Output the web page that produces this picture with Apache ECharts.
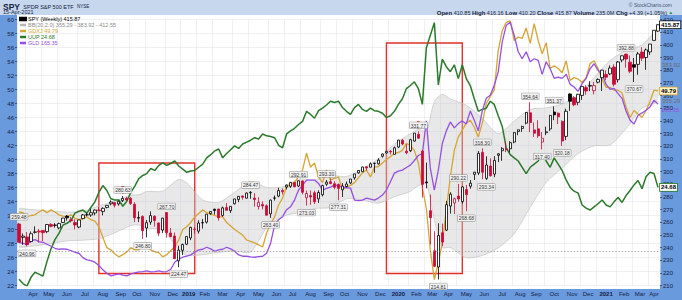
<!DOCTYPE html>
<html><head><meta charset="utf-8">
<script src="https://cdn.jsdelivr.net/npm/echarts@6/dist/echarts.min.js"></script>
<style>html,body{margin:0;padding:0;background:#fff}#c{width:682px;height:300px}</style>
</head><body><div id="c"></div>
<script>
// ---------- week categories (weekly bars, dated by Friday) ----------
const firstFriday = [2018, 2, 23];
const weekCount = 161;
const monthNames = ['Jan','Feb','Mar','Apr','May','Jun','Jul','Aug','Sep','Oct','Nov','Dec'];
const weeks = [];
for (let k = 0; k < weekCount; k++) {
  weeks.push(new Date(Date.UTC(firstFriday[0], firstFriday[1], firstFriday[2] + 7 * k)).toISOString().slice(0, 10));
}

// ---------- SPY weekly OHLC (dividend-adjusted, as charted) ----------
const spyOpen = [258.59,247.99,248.37,244.68,252.06,252.91,253.48,252.53,258.21,257.73,255.46,259.72,
264.78,261.84,259.75,256.14,262.79,265.83,265.64,267.26,269.54,268.49,271.63,274.57,275.43,274.38,
276.96,278.78,278.87,274.10,263.12,264.45,255.39,260.06,264.65,259.39,253.76,267.61,251.47,
249.09,229.50,237.76,242.65,247.55,254.27,252.93,259.36,260.03,266.85,270.21,270.31,
265.33,271.59,269.09,274.58,277.86,280.66,278.92,283.07,279.02,272.37,274.01,272.94,266.58,279.12,
280.57,285.03,287.74,288.33,291.33,288.62,292.59,279.21,280.96,283.19,278.44,281.64,289.97,
291.90,290.34,289.85,285.57,288.10,291.02,295.01,298.91,299.88,303.68,303.39,306.31,306.11,
312.12,314.67,315.99,313.59,319.36,324.65,316.04,316.43,324.06,329.25,316.13,291.77,269.07,
237.39,224.60,251.66,253.73,272.72,275.09,280.60,276.27,285.72,288.37,297.72,298.81,315.14,
294.59,304.37,297.95,312.78,316.43,317.72,317.92,323.26,331.56,334.03,338.18,346.34,332.84,
333.68,323.26,330.61,333.58,346.98,345.99,339.54,327.73,361.24,358.20,354.62,360.08,366.24,
367.40,363.78,370.49,374.08,376.62,377.07,382.45,372.48,388.03,392.68,386.34,384.34,384.59,
394.30,390.00,394.40,403.50,410.85];
const spyHigh = [259.48,251.02,252.25,252.62,256.69,254.52,253.57,258.49,259.25,259.25,259.53,263.32,
265.64,264.02,262.22,261.74,266.40,267.26,270.30,270.01,272.10,271.63,273.43,277.23,275.62,276.57,
280.63,279.92,279.92,275.82,268.46,265.41,261.69,268.48,265.41,259.78,263.50,267.70,255.39,
251.78,241.40,243.04,248.70,256.37,256.10,261.47,262.53,266.37,268.58,270.69,270.69,
272.27,275.07,272.75,278.35,280.18,281.05,283.55,284.47,282.88,279.70,276.32,274.01,277.77,281.05,
287.16,286.68,289.78,291.81,291.81,292.91,292.88,284.93,285.03,284.84,285.13,289.58,293.30,
294.53,292.29,290.44,290.83,292.09,294.04,298.13,300.85,303.78,303.78,307.18,306.99,310.59,
314.18,316.04,316.82,319.66,325.04,325.77,321.52,325.82,330.32,331.77,317.01,307.03,281.79,
252.84,259.14,258.85,276.76,283.65,279.42,290.22,288.28,289.36,293.29,299.20,316.23,318.30,
311.99,310.40,312.09,314.36,319.30,323.45,323.95,331.07,333.14,336.11,346.98,354.64,338.68,
340.53,331.10,335.47,344.70,351.37,346.68,340.41,349.56,361.65,359.59,361.27,367.23,368.27,
371.29,370.79,373.48,380.26,379.86,383.70,384.59,387.23,391.62,392.88,391.62,389.63,394.36,
398.10,397.10,400.70,411.70,416.16];
const spyLow = [243.92,242.22,240.96,243.92,251.02,243.92,245.10,251.30,255.84,255.65,254.42,259.25,
261.17,259.84,254.33,255.19,262.22,264.59,264.21,265.35,268.78,265.35,270.87,273.34,271.63,272.96,
275.91,276.87,273.52,260.06,260.06,246.80,248.08,257.96,256.53,248.99,251.38,247.75,248.13,
231.03,224.47,234.01,241.88,245.82,250.72,251.01,254.94,258.88,265.70,265.99,261.19,
264.26,269.47,267.25,273.91,275.84,277.77,278.73,278.44,272.27,269.96,270.05,265.42,263.40,277.00,
279.70,281.83,285.90,286.97,287.45,287.74,281.93,273.03,273.69,274.27,275.24,280.38,288.62,
290.05,285.96,277.31,279.82,287.42,290.14,293.55,298.13,299.59,300.76,303.19,299.00,305.33,
310.95,314.08,313.49,313.49,318.48,320.63,313.59,315.35,323.47,325.82,279.38,286.68,242.36,
224.40,214.81,241.13,252.94,266.72,266.43,276.07,274.69,268.68,286.41,293.29,297.23,293.89,
293.34,295.97,295.48,307.44,308.43,315.35,315.05,322.27,328.69,331.26,337.19,331.07,327.21,
326.54,317.40,328.72,331.90,340.53,337.45,320.18,324.75,347.87,351.55,352.24,356.51,360.58,
363.41,360.82,369.59,363.61,372.18,376.07,367.10,370.29,386.24,381.95,377.57,370.67,376.37,
387.20,380.30,392.00,403.40,410.20];
const spyClose = [244.16,248.98,242.22,250.87,252.25,252.21,251.70,258.16,256.72,257.50,258.87,263.21,
263.39,261.12,257.83,261.76,265.73,265.81,267.46,269.54,269.12,270.93,273.25,275.91,273.34,276.46,
278.77,277.55,274.78,263.45,263.74,253.31,259.58,265.18,261.33,251.33,263.17,251.63,248.67,
231.13,237.90,242.36,248.68,255.87,254.54,259.32,259.72,266.34,268.41,269.27,263.55,
271.32,269.33,272.44,278.32,280.39,279.72,282.98,283.58,277.86,275.68,272.73,265.49,277.43,278.98,
284.93,283.96,289.26,291.38,288.01,292.70,283.60,282.63,279.94,276.07,283.43,288.86,291.59,
290.42,287.61,286.59,288.47,290.12,294.05,298.07,300.80,303.57,302.76,306.02,306.57,308.96,
313.82,315.90,315.46,318.69,324.79,321.68,314.79,325.04,330.32,326.29,289.87,291.05,263.51,
225.19,249.42,244.27,273.81,282.11,278.50,278.32,287.82,281.76,290.77,299.51,314.30,299.41,
305.11,296.61,308.66,313.95,318.04,317.21,322.78,330.74,332.98,335.59,346.57,338.65,330.24,
328.17,326.27,331.34,344.25,344.69,343.19,324.09,347.54,355.42,352.67,360.95,367.08,363.56,
367.98,367.80,372.66,380.02,374.48,381.63,368.86,386.45,391.36,388.76,379.12,382.38,392.78,
389.48,395.98,400.61,411.49,415.87];

// ---------- Bollinger band edges (week index, upper, lower) ----------
const bbWeek  = [0,4,8,12,16,20,24,28,30,32,36,40,42,46,50,54,58,62,66,70,74,78,82,86,90,94,98,100,102,104,106,108,112,116,120,124,128,132,136,140,144,148,152,156,160];
const bbUpper = [270.6,269.7,268.7,268.0,268.6,272.8,276.6,281.3,281.6,284.2,284.5,293.8,291.0,277.5,275.6,283.6,292.2,287.4,287.8,294.1,293.3,297.0,296.0,302.3,310.0,321.6,329.7,333.2,331.7,355.3,361.0,357.3,352.3,341.9,329.9,339.9,349.0,350.2,353.3,360.3,374.1,387.7,395.7,400.0,412.55];
const bbLower = [240.3,241.3,243.2,245.2,245.8,246.9,251.6,257.3,257.8,255.2,254.0,238.1,233.7,234.3,236.2,237.3,236.3,255.6,264.6,267.5,270.8,271.6,278.5,277.5,275.0,280.1,284.3,288.9,290.1,261.6,240.1,240.0,231.9,233.7,239.7,250.9,271.7,291.4,302.7,314.2,320.3,321.0,333.9,350.0,355.29];
const bbLast = {lower: 355.29, middle: 383.92, upper: 412.55};

// ---------- overlays ----------
const gdxj = [32.5,32.4,31.8,32.0,32.1,32.5,32.8,32.4,32.8,32.5,32.1,31.9,31.8,32.1,31.6,31.4,31.6,31.8,31.4,31.2,30.4,28.9,27.4,27.1,26.5,26.1,26.4,26.8,27.4,27.1,27.1,27.6,28.1,27.1,26.8,26.7,26.1,26.4,27.0,27.5,28.5,30.0,30.4,31.0,31.8,32.3,32.8,32.4,32.2,32.0,31.8,31.8,31.0,30.5,30.0,29.6,29.2,28.5,28.3,28.1,27.8,27.5,29.5,30.8,31.8,33.5,34.5,36.1,36.4,36.7,37.6,38.5,40.9,38.9,39.5,37.5,36.7,38.5,37.1,37.3,37.5,35.7,36.1,36.3,36.7,37.4,38.1,38.5,37.5,38.9,39.0,39.5,40.0,40.4,40.9,41.0,41.3,42.3,42.0,41.3,39.5,36.0,33.0,27.0,22.85,25.3,28.1,32.8,37.5,41.3,43.2,44.2,45.2,45.6,44.6,43.2,45.2,48.0,49.0,49.9,55.6,58.4,59.6,59.8,57.0,57.5,57.3,58.8,56.6,59.4,57.0,55.1,56.7,53.0,53.4,53.0,52.4,54.1,51.3,51.7,51.5,51.0,51.7,53.7,54.1,53.0,51.5,50.3,50.3,49.9,49.9,49.5,47.5,46.0,47.0,46.5,46.0,47.0,48.3,49.9,49.79];
const uup = [23.22,23.15,23.11,23.25,23.33,23.30,23.27,23.50,23.70,23.85,23.95,24.08,24.11,24.15,24.27,24.30,24.32,24.27,24.36,24.45,24.60,24.71,24.63,24.50,24.48,24.48,24.38,24.46,24.60,24.70,24.82,24.87,24.90,24.98,24.95,25.03,25.07,25.03,25.06,25.10,25.02,24.97,24.92,24.94,24.95,25.00,25.05,25.15,25.20,25.26,25.29,25.15,25.22,25.28,25.34,25.30,25.37,25.40,25.43,25.47,25.45,25.53,25.50,25.49,25.47,25.35,25.31,25.53,25.58,25.62,25.68,25.73,25.89,25.84,25.78,25.90,25.94,25.99,26.05,26.03,26.05,25.95,25.89,25.84,25.95,26.00,25.92,25.89,25.94,25.90,25.89,25.86,25.79,25.82,25.89,26.00,26.09,26.25,26.30,26.36,26.25,26.00,26.90,27.10,27.30,26.31,26.72,26.60,26.52,26.63,26.41,26.63,26.41,26.30,26.09,25.89,25.92,25.94,26.05,26.00,25.82,25.65,25.31,25.20,25.15,25.10,25.00,24.90,25.00,25.05,25.10,25.21,25.10,25.00,25.15,25.05,24.95,24.80,24.68,24.62,24.59,24.40,24.35,24.32,24.37,24.42,24.48,24.40,24.37,24.45,24.52,24.44,24.55,24.63,24.72,24.79,24.66,24.85,24.92,24.90,24.68];
const gld = [123.8,123.5,123.2,124.2,124.6,124.0,123.8,123.2,122.6,122.0,121.7,121.8,121.7,121.3,120.8,120.5,119.2,118.5,118.3,117.8,116.8,115.5,114.5,113.7,114.0,114.3,113.9,113.7,114.3,114.6,114.9,115.0,115.2,114.9,115.0,115.2,114.9,115.0,115.7,117.8,118.8,119.3,119.6,120.0,120.8,121.5,121.7,122.3,121.8,121.1,121.5,121.7,122.3,121.8,121.1,120.0,119.6,119.6,119.4,119.3,119.5,119.6,120.5,123.5,129.0,130.6,131.5,133.6,134.5,136.5,139.5,141.0,142.5,142.5,142.5,141.5,139.5,140.0,140.4,141.0,140.8,140.4,140.2,140.1,136.5,136.3,136.5,137.1,136.8,136.5,137.1,138.0,139.5,142.0,144.6,145.2,145.5,146.3,147.0,148.4,149.9,150.5,160.3,146.0,139.5,145.5,153.5,157.3,160.0,158.2,159.5,160.3,159.4,163.3,160.5,157.3,163.3,167.1,168.0,171.0,175.1,184.1,189.1,190.0,186.0,181.1,179.0,181.1,178.1,179.0,178.5,174.3,178.1,176.0,173.1,173.5,173.1,174.3,171.3,170.5,169.2,171.5,173.1,176.0,177.5,175.5,174.3,171.3,169.8,170.1,168.5,167.1,163.3,160.5,159.4,162.0,162.7,163.5,164.5,166.5,165.35];

// ---------- annotations (week index, price) ----------
const boxes = [[20, 306.7, 44, 219.5], [92, 401.4, 111, 219.5]];
const arrowWeeks = [26, 100];
const highLabelWeeks = [0, 26, 37, 58, 70, 77, 100, 110, 116, 128, 134, 152];
const lowLabelWeeks = [2, 31, 40, 63, 72, 80, 105, 112, 117, 131, 136, 154];
const supportLevel = 236.8;

// ---------- tick labels ----------
const leftTicks = {min: 22, max: 60, step: 2};
const rightTicks = {min: 210, max: 420, step: 10};
const uupRange = [23.12, 27.35];
const gldRange = [110.8, 190.8];

// ---------- colours ----------
const C = {frame:'#6a9ade', header:'#c6d7ee', ink:'#15213d', red:'#cc0a35', gdxj:'#d6a434', uup:'#2b7a2b', gld:'#9650e0', bb:'#c4c4c4', grid:'#e3e5ec'};

// month label / split positions from categories
const groups = {};
weeks.forEach((w, k) => { const m = w.slice(0, 7); (groups[m] = groups[m] || []).push(k); });
const labelAt = {}, splitAt = new Set();
Object.keys(groups).forEach((m, gi) => {
  const g = groups[m];
  splitAt.add(g[0]);
  if (gi === 0 && g.length < 3) return;
  const mid = (g.length - 1) / 2, idx = g[Math.ceil(mid)], even = Math.ceil(mid) !== mid;
  const mo = +m.slice(5, 7);
  const style = (mo === 1 ? 'y' : 'm') + (even ? 'e' : 'o');
  labelAt[idx] = '{' + style + '|' + (mo === 1 ? m.slice(0, 4) : monthNames[mo - 1]) + '}';
});

const last = a => a[a.length - 1];
const spyData = spyOpen.map((o, k) => {
  const c = spyClose[k], prev = k > 0 ? spyClose[k - 1] : o;
  const col = c >= prev ? '#000' : C.red;
  const fill = c >= o ? '#fff' : col;
  return {value: [o, c, spyLow[k], spyHigh[k]], itemStyle: {color: fill, color0: fill, borderColor: col, borderColor0: col}};
});

const font = 'Liberation Sans, Arial, sans-serif';
const boxLabel = (border, color, bold, bg) => ({show: true, fontSize: 6, fontFamily: font, color: color, fontWeight: bold ? 'bold' : 'normal',
  backgroundColor: bg || '#fff', borderColor: border || 'transparent', borderWidth: border ? 0.8 : 0, padding: [0.5, 1, 0, 1], lineHeight: 6.5});

const valLabel = {fontSize: 5, fontFamily: font, color: '#333', backgroundColor: '#f2f2f2', borderColor: '#8a8a8a', borderWidth: 0.5, padding: [0.5, 1, 0, 1], lineHeight: 5.5};
const markPts = [];
highLabelWeeks.forEach(k => markPts.push({coord: [k, spyHigh[k]], value: spyHigh[k].toFixed(2), symbolSize: 0,
  label: Object.assign({show: true, position: 'top', distance: 3, formatter: '{c}'}, valLabel)}));
lowLabelWeeks.forEach(k => markPts.push({coord: [k, spyLow[k]], value: spyLow[k].toFixed(2), symbolSize: 0,
  label: Object.assign({show: true, position: 'bottom', distance: 4, formatter: '{c}'}, valLabel)}));
arrowWeeks.forEach(k => markPts.push({coord: [k, spyHigh[k]], symbol: 'path://M3,0 H7 V6 H10 L5,12 L0,6 H3 Z', symbolSize: [7, 8], symbolOffset: [0, -6],
  itemStyle: {color: '#e4101c'}, label: {show: false}}));
markPts.push({coord: [weekCount - 1, last(spyClose)], value: last(spyClose).toFixed(2), symbolSize: 0,
  label: Object.assign(boxLabel('#000', '#000', true), {position: 'right', distance: 2, formatter: '{c}'})});
markPts.push({coord: [weekCount - 1, bbLast.middle], value: bbLast.middle.toFixed(2), symbolSize: 0,
  label: Object.assign(boxLabel(null, '#6d6d6d', false, 'transparent'), {position: 'right', distance: 3, formatter: '{c}'})});
markPts.push({coord: [weekCount - 1, bbLast.lower], value: bbLast.lower.toFixed(2), symbolSize: 0,
  label: Object.assign(boxLabel(null, '#6d6d6d', false, 'transparent'), {position: 'right', distance: 3, offset: [0, 0], formatter: '{c}'})});

const legendText = {
  'SPY (Weekly)': 'SPY (Weekly) ' + last(spyClose).toFixed(2),
  'BB(20,2.0)': 'BB(20,2.0) ' + bbLast.lower.toFixed(2) + ' - ' + bbLast.middle.toFixed(2) + ' - ' + bbLast.upper.toFixed(2),
  'GDXJ': 'GDXJ ' + last(gdxj).toFixed(2),
  'UUP': 'UUP ' + last(uup).toFixed(2),
  'GLD': 'GLD ' + last(gld).toFixed(2)
};

const lineSeries = (name, data, color, yi, width, end) => ({
  type: 'line', name: name, data: data, yAxisIndex: yi, symbol: 'none', z: 3,
  lineStyle: {color: color, width: width}, itemStyle: {color: color},
  endLabel: Object.assign(end, {distance: 2, formatter: p => (+p.value).toFixed(2)})
});

const chart = echarts.init(document.getElementById('c'), null, {renderer: 'svg'});
chart.setOption({
  animation: false,
  backgroundColor: C.frame,
  textStyle: {fontFamily: font},
  grid: {left: 17, right: 22, top: 19.5, bottom: 14.5},
  graphic: [
    {type: 'rect', z: -1, shape: {x: 0, y: 0, width: 682, height: 15}, style: {fill: C.header}},
    {type: 'rect', z: -1, shape: {x: 17, y: 15, width: 643, height: 274}, style: {fill: '#fff'}},
    {type: 'text', z: 5, left: 3, top: 0.5, style: {text: '{a|SPY} {b|SPDR S&P 500 ETF} {c|NYSE}', rich: {
      a: {fontSize: 8.5, fontWeight: 'bold', fill: C.ink, fontFamily: font},
      b: {fontSize: 5.5, fill: C.ink, fontFamily: font},
      c: {fontSize: 4.5, fill: C.ink, fontFamily: font}}}},
    {type: 'text', z: 5, left: 3, top: 9, style: {text: '15-Apr-2021', fontSize: 5.5, fill: C.ink, fontFamily: font}},
    {type: 'text', z: 5, right: 10, top: 2, style: {text: '© StockCharts.com', fontSize: 5, fill: '#4a5670', fontFamily: font}},
    {type: 'text', z: 5, right: 9, top: 9.5, style: {text: '{k|Open} 410.85 {k|High} 416.16 {k|Low} 410.20 {k|Close} 415.87 {k|Volume} 235.0M {k|Chg} +4.39 (+1.05%) {u|▲}',
      fontSize: 5.5, fill: C.ink, fontFamily: font, rich: {k: {fontSize: 6, fontWeight: 'bold', fill: C.ink, fontFamily: font}, u: {fontSize: 4.5, fill: '#1a8a1a'}}}}
  ],
  legend: {
    orient: 'vertical', left: 19, top: 16, padding: 0, itemGap: 0, itemWidth: 6, itemHeight: 2.5,
    textStyle: {fontSize: 5.5, fontFamily: font, lineHeight: 5.7, padding: [0, 0, 0, -3]},
    formatter: n => legendText[n],
    data: [
      {name: 'SPY (Weekly)', icon: 'rect', itemStyle: {color: '#000', borderColor: '#000'}, textStyle: {color: '#000'}},
      {name: 'BB(20,2.0)', icon: 'rect', itemStyle: {color: '#b5b5b5'}, textStyle: {color: '#8a8a8a'}},
      {name: 'GDXJ', icon: 'rect', textStyle: {color: C.gdxj}},
      {name: 'UUP', icon: 'rect', textStyle: {color: C.uup}},
      {name: 'GLD', icon: 'rect', textStyle: {color: C.gld}}
    ]
  },
  xAxis: {
    type: 'category', data: weeks, boundaryGap: true,
    axisLine: {show: false}, axisTick: {show: false},
    axisLabel: {interval: (i) => labelAt[i] !== undefined, formatter: (v, i) => labelAt[i] || '', margin: 5,
      rich: {
        mo: {fontSize: 6, color: C.ink}, me: {fontSize: 6, color: C.ink, padding: [0, 4, 0, 0]},
        yo: {fontSize: 6, fontWeight: 'bold', color: C.ink}, ye: {fontSize: 6, fontWeight: 'bold', color: C.ink, padding: [0, 4, 0, 0]}}},
    splitLine: {show: true, interval: (i) => splitAt.has(i), lineStyle: {color: C.grid, width: 0.6}}
  },
  yAxis: [
    {type: 'value', position: 'left', min: leftTicks.min, max: leftTicks.max, interval: leftTicks.step,
      axisLine: {show: false}, axisTick: {show: true, length: 2, lineStyle: {color: C.ink, width: 0.6}},
      axisLabel: {fontSize: 6, color: C.ink, margin: 3},
      splitLine: {lineStyle: {color: C.grid, width: 0.6}}},
    {type: 'value', position: 'right', min: rightTicks.min, max: rightTicks.max, interval: rightTicks.step,
      axisLine: {show: false}, axisTick: {show: true, length: 2, lineStyle: {color: C.ink, width: 0.6}},
      axisLabel: {fontSize: 6, color: C.ink, margin: 3}, splitLine: {show: false}},
    {type: 'value', show: false, min: uupRange[0], max: uupRange[1]},
    {type: 'value', show: false, min: gldRange[0], max: gldRange[1]}
  ],
  series: [
    {type: 'custom', name: 'BB(20,2.0)', yAxisIndex: 1, data: [0], silent: true, z: 1,
      itemStyle: {color: '#b5b5b5'},
      renderItem: (params, api) => {
        const up = bbWeek.map((k, j) => api.coord([k, bbUpper[j]]));
        const lo = bbWeek.map((k, j) => api.coord([k, bbLower[j]]));
        return {type: 'group', children: [
          {type: 'polygon', shape: {points: up.concat(lo.slice().reverse()), smooth: 0.25}, style: {fill: 'rgba(200,200,200,0.42)', stroke: 'none'}},
          {type: 'polyline', shape: {points: up, smooth: 0.25}, style: {stroke: C.bb, fill: 'none', lineWidth: 0.7}},
          {type: 'polyline', shape: {points: lo, smooth: 0.25}, style: {stroke: C.bb, fill: 'none', lineWidth: 0.7}}
        ]};
      }},
    lineSeries('GDXJ', gdxj, C.gdxj, 0, 1.3, boxLabel(C.gdxj, '#000', true, '#fff3c8')),
    lineSeries('UUP', uup, C.uup, 2, 1.5, boxLabel(C.uup, '#000', true)),
    lineSeries('GLD', gld, C.gld, 3, 1.3, Object.assign(boxLabel(null, C.gld, false, 'transparent'), {offset: [0, 6]})),
    {type: 'candlestick', name: 'SPY (Weekly)', yAxisIndex: 1, data: spyData, barWidth: 2.8, z: 4,
      itemStyle: {color: '#000', color0: '#000', borderColor: '#000', borderColor0: '#000', borderWidth: 0.8},
      markPoint: {data: markPts, silent: true, animation: false},
      markLine: {silent: true, symbol: 'none', label: {show: false}, lineStyle: {color: '#8a8a8a', type: [1.2, 2], width: 0.8},
        data: [{yAxis: supportLevel}]},
      markArea: {silent: true, itemStyle: {color: 'rgba(0,0,0,0)', borderColor: '#e2302a', borderWidth: 1.4},
        data: boxes.map(b => [{coord: [b[0], b[1]]}, {coord: [b[2], b[3]]}])}}
  ]
});
</script></body></html>
